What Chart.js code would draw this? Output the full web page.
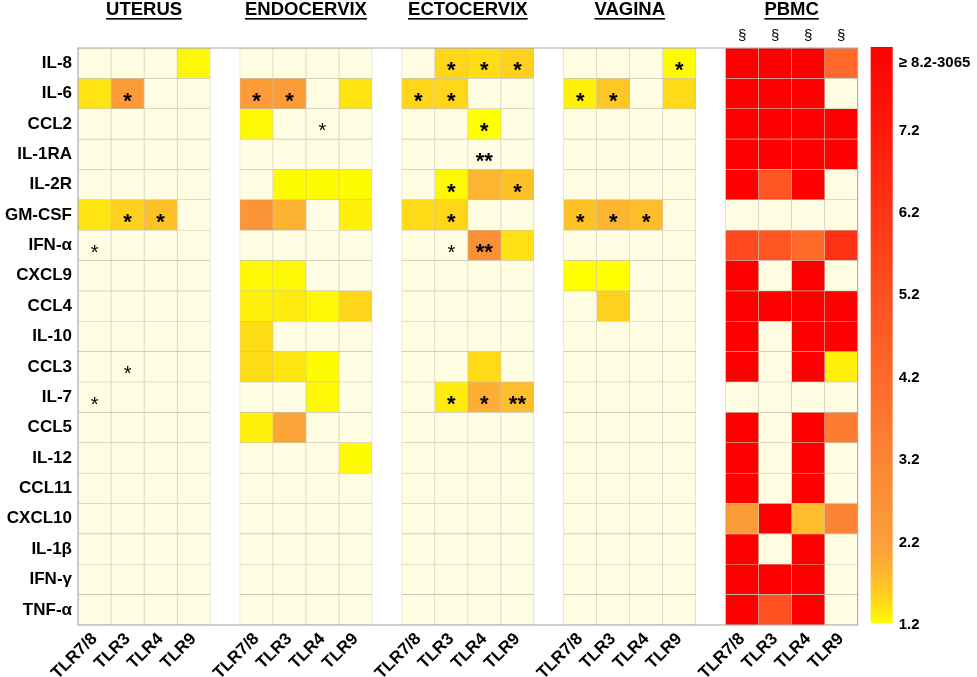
<!DOCTYPE html>
<html>
<head>
<meta charset="utf-8">
<script src="https://cdn.jsdelivr.net/npm/chart.js@4.4.1/dist/chart.umd.min.js"></script>
<style>
  body { margin: 0; background: #fff; }
  #wrap { width: 977px; height: 677px; }
</style>
</head>
<body>
<div id="wrap"><canvas id="heat" width="977" height="677"></canvas></div>
<script>
const _ = null; // não induzido (célula creme)

const compartments = ["UTERUS", "ENDOCERVIX", "ECTOCERVIX", "VAGINA", "PBMC"];
const stimuli = ["TLR7/8", "TLR3", "TLR4", "TLR9"];
const cytokines = ["IL-8", "IL-6", "CCL2", "IL-1RA", "IL-2R", "GM-CSF", "IFN-α", "CXCL9", "CCL4",
    "IL-10", "CCL3", "IL-7", "CCL5", "IL-12", "CCL11", "CXCL10", "IL-1β", "IFN-γ", "TNF-α"];

// fold change por linha: [TLR7/8, TLR3, TLR4, TLR9]
const uterus = [
    [_, _, _, 1.25], [1.4, 2.3, _, _], [_, _, _, _], [_, _, _, _], [_, _, _, _],
    [1.4, 1.55, 1.7, _], [_, _, _, _], [_, _, _, _], [_, _, _, _], [_, _, _, _],
    [_, _, _, _], [_, _, _, _], [_, _, _, _], [_, _, _, _], [_, _, _, _],
    [_, _, _, _], [_, _, _, _], [_, _, _, _], [_, _, _, _]
];
const endocervix = [
    [_, _, _, _], [2.3, 2.3, _, 1.4], [1.25, _, _, _], [_, _, _, _], [_, 1.22, 1.22, 1.22],
    [2.6, 1.9, _, 1.3], [_, _, _, _], [1.25, 1.25, _, _], [1.3, 1.35, 1.25, 1.5], [1.45, _, _, _],
    [1.45, 1.38, 1.22, _], [_, _, 1.25, _], [1.3, 2.1, _, _], [_, _, _, 1.22], [_, _, _, _],
    [_, _, _, _], [_, _, _, _], [_, _, _, _], [_, _, _, _]
];
const ectocervix = [
    [_, 1.5, 1.45, 1.55], [1.5, 1.5, _, _], [_, _, 1.2, _], [_, _, _, _], [_, 1.25, 1.85, 1.7],
    [1.47, 1.5, _, _], [_, _, 2.8, 1.42], [_, _, _, _], [_, _, _, _], [_, _, _, _],
    [_, _, 1.47, _], [_, 1.35, 1.95, 1.75], [_, _, _, _], [_, _, _, _], [_, _, _, _],
    [_, _, _, _], [_, _, _, _], [_, _, _, _], [_, _, _, _]
];
const vagina = [
    [_, _, _, 1.22], [1.3, 1.65, _, 1.47], [_, _, _, _], [_, _, _, _], [_, _, _, _],
    [1.7, 1.85, 1.75, _], [_, _, _, _], [1.2, 1.2, _, _], [_, 1.55, _, _], [_, _, _, _],
    [_, _, _, _], [_, _, _, _], [_, _, _, _], [_, _, _, _], [_, _, _, _],
    [_, _, _, _], [_, _, _, _], [_, _, _, _], [_, _, _, _]
];
const pbmc = [
    [8.2, 8.2, 8.2, 4.2], [8.2, 8.2, 8.2, _], [8.2, 8.2, 8.2, 8.2], [8.2, 8.2, 8.2, 8.2], [8.2, 5.0, 8.2, _],
    [_, _, _, _], [5.5, 5.0, 4.2, 6.4], [8.2, _, 8.2, _], [8.2, 8.2, 8.2, 8.2], [8.2, _, 8.2, 8.2],
    [8.2, _, 8.2, 1.3], [_, _, _, _], [8.2, _, 8.2, 3.5], [8.2, _, 8.2, _], [8.2, _, 8.2, _],
    [2.3, 8.2, 1.75, 3.2], [8.2, _, 8.2, _], [8.2, 8.2, 8.2, _], [8.2, 5.2, 8.2, _]
];
const panels = [uterus, endocervix, ectocervix, vagina, pbmc];

// significância: [painel, linha, coluna, texto, negrito]
const stars = [
    [0, 1, 1, "*", true], [0, 5, 1, "*", true], [0, 5, 2, "*", true],
    [0, 6, 0, "*", false], [0, 10, 1, "*", false], [0, 11, 0, "*", false],
    [1, 1, 0, "*", true], [1, 1, 1, "*", true], [1, 2, 2, "*", false],
    [2, 0, 1, "*", true], [2, 0, 2, "*", true], [2, 0, 3, "*", true],
    [2, 1, 0, "*", true], [2, 1, 1, "*", true], [2, 2, 2, "*", true],
    [2, 3, 2, "**", true], [2, 4, 1, "*", true], [2, 4, 3, "*", true],
    [2, 5, 1, "*", true], [2, 6, 1, "*", false], [2, 6, 2, "**", true],
    [2, 11, 1, "*", true], [2, 11, 2, "*", true], [2, 11, 3, "**", true],
    [3, 0, 3, "*", true], [3, 1, 0, "*", true], [3, 1, 1, "*", true],
    [3, 5, 0, "*", true], [3, 5, 1, "*", true], [3, 5, 2, "*", true]
];
const pbmcMarks = ["§", "§", "§", "§"];

const colorTicks = [1.2, 2.2, 3.2, 4.2, 5.2, 6.2, 7.2, 8.2];
const colorStops = [
    [1.2, [255, 255, 0]], [1.5, [255, 214, 26]], [1.8, [253, 184, 48]], [2.2, [252, 158, 58]],
    [3.2, [251, 133, 52]], [4.2, [255, 106, 42]], [5.2, [255, 80, 32]], [6.2, [255, 53, 21]],
    [7.2, [255, 26, 10]], [8.2, [255, 0, 0]]
];

const FONT = "'Liberation Sans', Arial, sans-serif";
const CREAM = "#fffde2";
const PANEL_STEP = 4.9;

function colStart(p, c) {
    return p * PANEL_STEP + c;
}

function cellColor(v) {
    if (v === null) return CREAM;
    if (v <= colorStops[0][0]) return "rgb(" + colorStops[0][1].join(",") + ")";
    for (let i = 1; i < colorStops.length; i++) {
        const [v1, c1] = colorStops[i];
        const [v0, c0] = colorStops[i - 1];
        if (v <= v1) {
            const t = (v - v0) / (v1 - v0);
            const rgb = c0.map((a, k) => Math.round(a + (c1[k] - a) * t));
            return "rgb(" + rgb.join(",") + ")";
        }
    }
    return "rgb(255,0,0)";
}

const datasets = [];
panels.forEach((values, p) => {
    stimuli.forEach((s, c) => {
        datasets.push({
            label: compartments[p] + " " + s,
            data: cytokines.map(() => [colStart(p, c), colStart(p, c) + 1]),
            backgroundColor: values.map(row => cellColor(row[c])),
            borderColor: "#c6c2b2",
            borderWidth: 0.6,
            borderSkipped: false,
            categoryPercentage: 1,
            barPercentage: 1,
            grouped: false
        });
    });
});

const tickValues = [];
compartments.forEach((n, p) => stimuli.forEach((s, c) => tickValues.push(colStart(p, c) + 0.5)));

// títulos, asteriscos, barra de cores e moldura
const decorPlugin = {
    id: "decor",
    afterDatasetsDraw(chart) {
        const { ctx, chartArea, scales } = chart;
        const x = scales.x, y = scales.y, cb = scales.y2;

        ctx.save();
        ctx.fillStyle = "#000";
        ctx.textAlign = "center";
        ctx.textBaseline = "middle";
        stars.forEach(([p, r, c, txt, bold]) => {
            ctx.font = (bold ? "bold 22px " : "20px ") + FONT;
            ctx.fillText(txt, x.getPixelForValue(colStart(p, c) + 0.5), y.getPixelForValue(r) + 8);
        });

        // moldura
        ctx.strokeStyle = "#a3a3a3";
        ctx.lineWidth = 1;
        ctx.strokeRect(chartArea.left, chartArea.top, chartArea.right - chartArea.left, chartArea.bottom - chartArea.top);

        // títulos sublinhados
        ctx.font = "bold 18.5px " + FONT;
        compartments.forEach((name, p) => {
            const cx = x.getPixelForValue(colStart(p, 2));
            ctx.fillText(name, cx, 10);
            const w = ctx.measureText(name).width;
            ctx.fillRect(cx - w / 2, 18, w, 1.6);
        });

        ctx.font = "15px " + FONT;
        pbmcMarks.forEach((m, c) => {
            ctx.fillText(m, x.getPixelForValue(colStart(4, c) + 0.5), 36);
        });

        // barra de cores
        const top = cb.getPixelForValue(8.2), bottom = cb.getPixelForValue(1.2);
        const grad = ctx.createLinearGradient(0, bottom, 0, top);
        colorStops.forEach(([v, rgb]) => {
            grad.addColorStop((v - 1.2) / 7, "rgb(" + rgb.join(",") + ")");
        });
        ctx.fillStyle = grad;
        ctx.fillRect(cb.left + 13, top - 1, 22, bottom - top - 1);
        ctx.restore();
    }
};

new Chart(document.getElementById("heat"), {
    type: "bar",
    data: { labels: cytokines, datasets: datasets },
    plugins: [decorPlugin],
    options: {
        indexAxis: "y",
        responsive: false,
        animation: false,
        layout: { padding: { top: 48 } },
        plugins: { legend: { display: false }, tooltip: { enabled: false } },
        scales: {
            x: {
                type: "linear",
                min: 0,
                max: PANEL_STEP * 4 + 4,
                afterBuildTicks: s => { s.ticks = tickValues.map(v => ({ value: v })); },
                afterFit: s => { s.height = 52; },
                grid: { display: false, drawTicks: false },
                border: { display: false },
                ticks: {
                    autoSkip: false,
                    minRotation: 45,
                    maxRotation: 45,
                    padding: 4,
                    color: "#000",
                    font: { family: FONT, size: 17, weight: "bold" },
                    callback: (v, i) => stimuli[i % 4]
                }
            },
            y: {
                type: "category",
                afterFit: s => { s.width = 78; },
                grid: { display: false, drawTicks: false },
                border: { display: false },
                ticks: {
                    padding: 6,
                    color: "#000",
                    font: { family: FONT, size: 17, weight: "bold" }
                }
            },
            y2: {
                type: "linear",
                position: "right",
                offset: false,
                min: 1.2,
                max: 8.2,
                afterBuildTicks: s => { s.ticks = colorTicks.map(v => ({ value: v })); },
                afterFit: s => { s.width = 119.3; },
                grid: { display: true, offset: false, drawOnChartArea: false, drawTicks: true, tickLength: 34, color: "rgba(0,0,0,0)" },
                border: { display: false },
                ticks: {
                    padding: 7,
                    color: "#000",
                    font: { family: FONT, size: 15, weight: "bold", lineHeight: 2 },
                    callback: v => v === 8.2 ? ["", "≥ 8.2-3065"] : v.toFixed(1)
                }
            }
        }
    }
});
</script>
</body>
</html>
